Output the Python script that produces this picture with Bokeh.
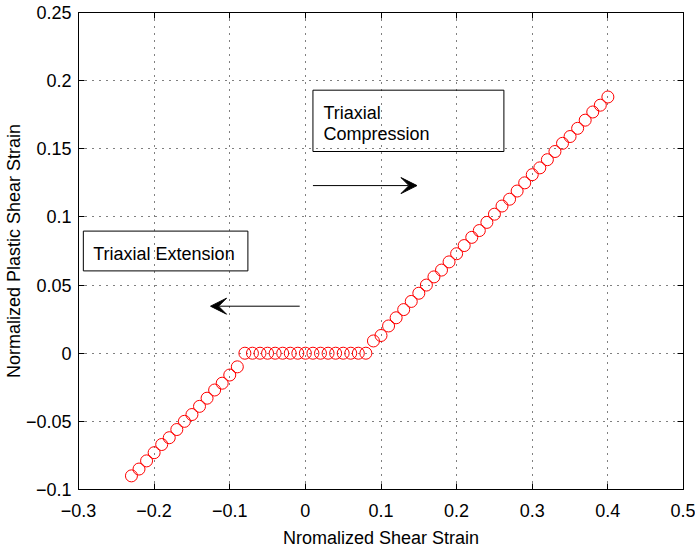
from bokeh.plotting import figure
from bokeh.models import (LinearAxis, FixedTicker, Range1d, Label, Arrow, VeeHead,
                          BoxAnnotation, ColumnDataSource)
from bokeh.embed import file_html
from bokeh.resources import INLINE

# ---- data ----
x_strain = [-0.23, -0.22, -0.21, -0.20, -0.19, -0.18, -0.17, -0.16, -0.15, -0.14,
            -0.13, -0.12, -0.11, -0.10, -0.09,
            -0.08, -0.07, -0.06, -0.05, -0.04, -0.03, -0.02, -0.01, 0.00,
            0.01, 0.02, 0.03, 0.04, 0.05, 0.06, 0.07, 0.08,
            0.09, 0.10, 0.11, 0.12, 0.13, 0.14, 0.15, 0.16, 0.17, 0.18,
            0.19, 0.20, 0.21, 0.22, 0.23, 0.24, 0.25, 0.26, 0.27, 0.28,
            0.29, 0.30, 0.31, 0.32, 0.33, 0.34, 0.35, 0.36, 0.37, 0.38,
            0.39, 0.40]
y_plastic = [-0.090, -0.085, -0.079, -0.073, -0.067, -0.062, -0.056, -0.050, -0.045, -0.039,
             -0.033, -0.027, -0.022, -0.016, -0.010,
             0.0, 0.0, 0.0, 0.0, 0.0, 0.0, 0.0, 0.0, 0.0,
             0.0, 0.0, 0.0, 0.0, 0.0, 0.0, 0.0, 0.0,
             0.009, 0.013, 0.020, 0.026, 0.032, 0.038, 0.044, 0.050, 0.056, 0.061,
             0.067, 0.073, 0.079, 0.085, 0.090, 0.096, 0.102, 0.108, 0.113, 0.119,
             0.125, 0.131, 0.136, 0.142, 0.148, 0.154, 0.159, 0.165, 0.171, 0.177,
             0.182, 0.188]

x_ticks = [-0.3, -0.2, -0.1, 0.0, 0.1, 0.2, 0.3, 0.4, 0.5]
x_tick_labels = ["\u22120.3", "\u22120.2", "\u22120.1", "0", "0.1", "0.2", "0.3", "0.4", "0.5"]
y_ticks = [-0.1, -0.05, 0.0, 0.05, 0.1, 0.15, 0.2, 0.25]
y_tick_labels = ["\u22120.1", "\u22120.05", "0", "0.05", "0.1", "0.15", "0.2", "0.25"]

x_label = "Nromalized Shear Strain"
y_label = "Normalized Plastic Shear Strain"
ext_text = "Triaxial Extension"
comp_text = ["Triaxial", "Compression"]

FONT = "Liberation Sans"
FS = "18px"

p = figure(width=695, height=550, output_backend="svg", toolbar_location=None,
           x_range=Range1d(-0.3, 0.5), y_range=Range1d(-0.1, 0.25),
           min_border_left=72, min_border_right=12, min_border_top=12, min_border_bottom=58)
p.background_fill_color = "white"
p.border_fill_color = "white"
p.outline_line_color = "black"
p.outline_line_width = 1
p.outline_line_alpha = 1

src = ColumnDataSource(dict(x=x_strain, y=y_plastic))
p.scatter("x", "y", source=src, marker="circle", size=12, fill_color=None,
          line_color="red", line_width=1)

def style_axis(ax, ticks, labels):
    ax.ticker = FixedTicker(ticks=ticks)
    ax.major_tick_in = 6
    ax.major_tick_out = 0
    ax.minor_tick_in = 0
    ax.minor_tick_out = 0
    ax.axis_line_color = "black"
    ax.major_tick_line_color = "black"
    if labels is not None:
        ax.major_label_overrides = {t: l for t, l in zip(ticks, labels)}
        ax.major_label_text_font = FONT
        ax.major_label_text_font_size = FS
        ax.major_label_text_color = "black"
    else:
        ax.major_label_text_color = None
        ax.major_label_text_font_size = "1px"
        ax.major_label_standoff = 0
    ax.axis_label_text_font = FONT
    ax.axis_label_text_font_size = FS
    ax.axis_label_text_font_style = "normal"
    ax.axis_label_text_color = "black"

xa = p.xaxis[0]
ya = p.yaxis[0]
style_axis(xa, x_ticks, x_tick_labels)
style_axis(ya, y_ticks, y_tick_labels)
xa.axis_label = x_label
ya.axis_label = y_label
xa.major_label_standoff = 14
xa.axis_label_standoff = 8
ya.major_label_standoff = 7
ya.axis_label_standoff = -1

top = LinearAxis()
style_axis(top, x_ticks, None)
right = LinearAxis()
style_axis(right, y_ticks, None)
p.add_layout(top, "above")
p.add_layout(right, "right")

for g in (p.xgrid[0], p.ygrid[0]):
    g.grid_line_color = "black"
    g.grid_line_alpha = 1.0
    g.grid_line_dash = "1 6"
    g.grid_line_width = 1
p.xgrid[0].ticker = FixedTicker(ticks=x_ticks)
p.ygrid[0].ticker = FixedTicker(ticks=y_ticks)

# text boxes
p.add_layout(BoxAnnotation(left=-0.2936, right=-0.076, bottom=0.0604, top=0.0896,
                           fill_color=None, fill_alpha=0, line_color="black",
                           line_alpha=1, line_width=1))
p.add_layout(BoxAnnotation(left=0.010, right=0.2625, bottom=0.148, top=0.193,
                           fill_color=None, fill_alpha=0, line_color="black",
                           line_alpha=1, line_width=1))
p.add_layout(Label(x=-0.2805, y=0.0726, text=ext_text, text_font=FONT, text_font_size=FS,
                   text_baseline="alphabetic", text_color="black"))
p.add_layout(Label(x=0.024, y=0.176, text=comp_text[0], text_font=FONT, text_font_size=FS,
                   text_baseline="alphabetic", text_color="black"))
p.add_layout(Label(x=0.024, y=0.1607, text=comp_text[1], text_font=FONT, text_font_size=FS,
                   text_baseline="alphabetic", text_color="black"))

# arrows
p.add_layout(Arrow(end=VeeHead(size=16, fill_color="black", line_color="black", line_width=1),
                   x_start=0.010, y_start=0.123, x_end=0.1476, y_end=0.123,
                   line_color="black", line_width=1))
p.add_layout(Arrow(end=VeeHead(size=16, fill_color="black", line_color="black", line_width=1),
                   x_start=-0.0075, y_start=0.0345, x_end=-0.1254, y_end=0.0345,
                   line_color="black", line_width=1))

open("out.html", "w").write(file_html(p, INLINE))
